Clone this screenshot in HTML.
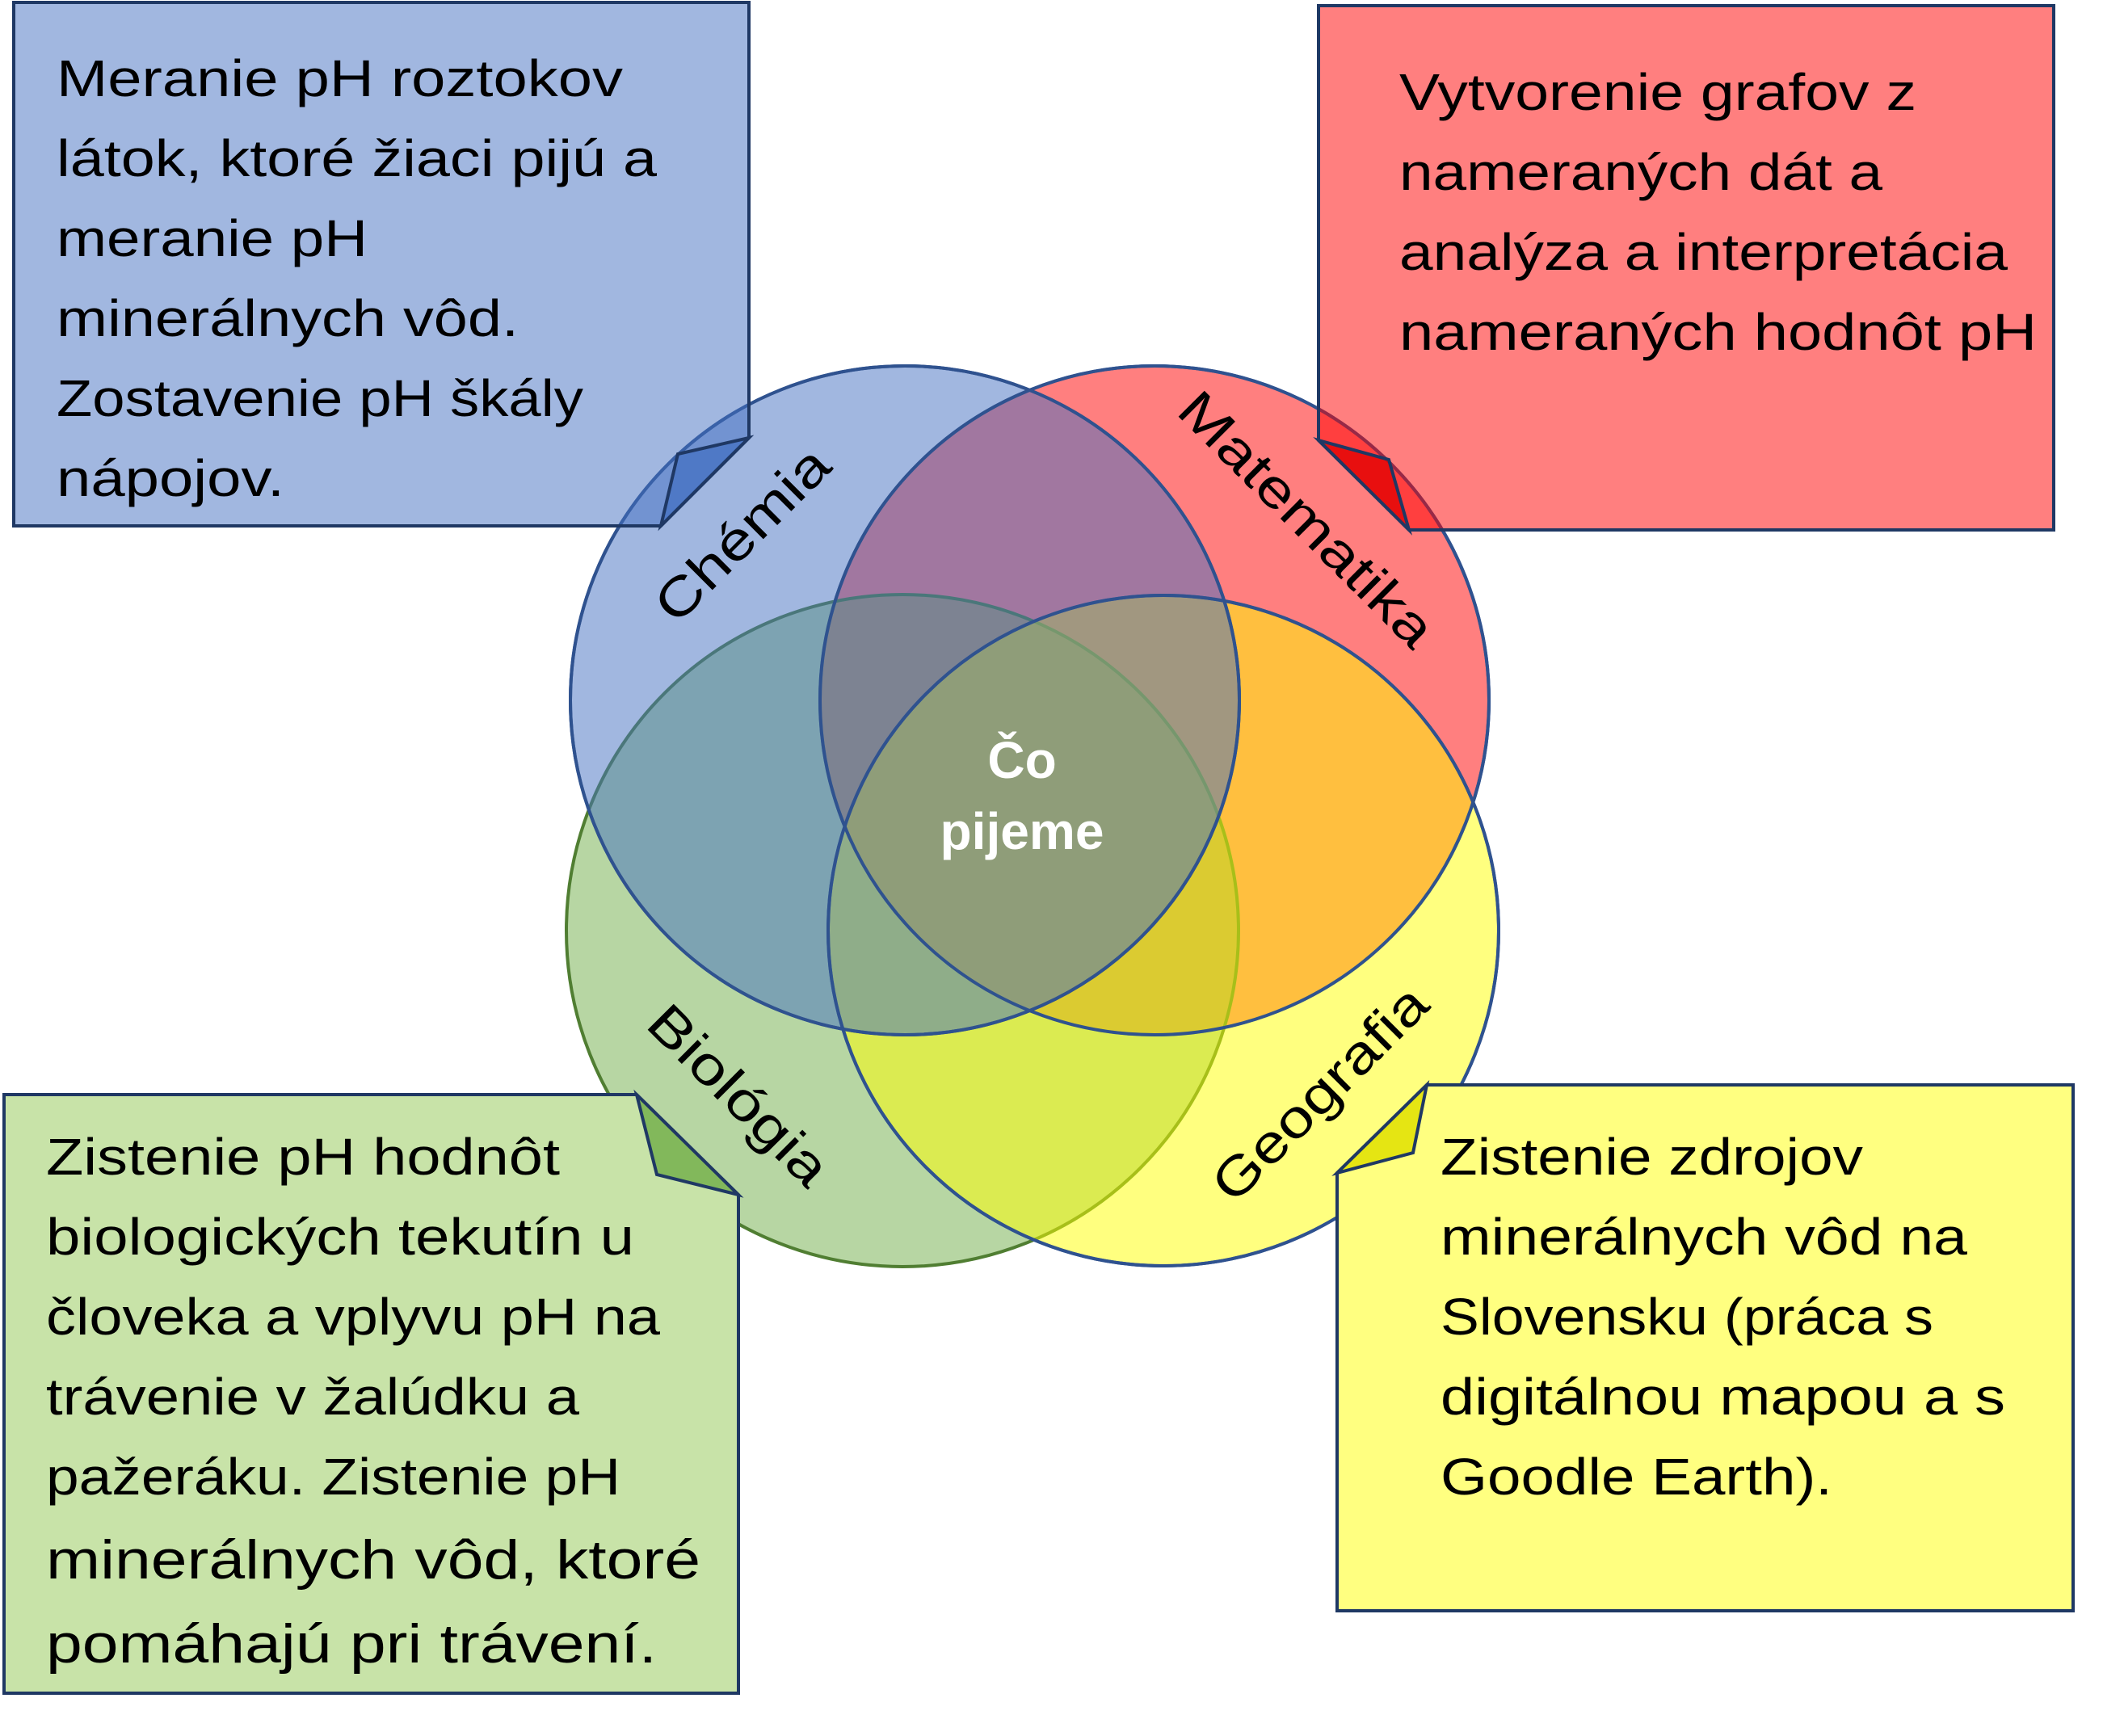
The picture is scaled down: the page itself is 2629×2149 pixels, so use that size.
<!DOCTYPE html>
<html><head><meta charset="utf-8"><style>
html,body{margin:0;padding:0;background:#fff;}
svg{display:block;}
text{font-family:"Liberation Sans",sans-serif;}
</style></head><body>
<svg width="2629" height="2149" viewBox="0 0 2629 2149" xmlns="http://www.w3.org/2000/svg">
<g stroke-width="4">
<circle cx="1429" cy="867" r="414" fill="#FF0000" fill-opacity="0.5" stroke="#2F528F"/>
<circle cx="1117" cy="1152" r="416" fill="#70AD47" fill-opacity="0.5" stroke="#507E32"/>
<circle cx="1440" cy="1152" r="415" fill="#FFFF00" fill-opacity="0.5" stroke="#2F528F"/>
<circle cx="1120" cy="867" r="414" fill="#4370C2" fill-opacity="0.5" stroke="#2F528F"/>
</g>
<g stroke-width="4" fill="none" stroke="#2F528F">
<circle cx="1429" cy="867" r="414"/>
<circle cx="1440" cy="1152" r="415"/>
<circle cx="1120" cy="867" r="414"/>
</g>
<g font-size="66" fill="#000" text-anchor="middle">
<text transform="translate(919,662) rotate(-45)" dy="22" textLength="276" lengthAdjust="spacingAndGlyphs">Chémia</text>
<text transform="translate(1617,643) rotate(45)" dy="22" textLength="417" lengthAdjust="spacingAndGlyphs">Matematika</text>
<text transform="translate(914,1356) rotate(45)" dy="22" textLength="287" lengthAdjust="spacingAndGlyphs">Biológia</text>
<text transform="translate(1634,1354) rotate(-45)" dy="22" textLength="347" lengthAdjust="spacingAndGlyphs">Geografia</text>
</g>
<g font-size="64" font-weight="bold" fill="#fff" text-anchor="middle">
<text x="1265" y="963">Čo</text>
<text x="1265" y="1051" textLength="203" lengthAdjust="spacingAndGlyphs">pijeme</text>
</g>
<g stroke="#1F3864" stroke-width="4" stroke-linejoin="miter">
<path d="M17,3 H927 V542 L818,651 H17 Z" fill="#4370C2" fill-opacity="0.5"/>
<path d="M927,542 L839,562 L818,651 Z" fill="#4470C2" fill-opacity="0.75"/>
<path d="M1632,7 H2542 V656 H1744 L1632,545 Z" fill="#FF0000" fill-opacity="0.5"/>
<path d="M1632,545 L1719,569 L1744,656 Z" fill="#E00000" fill-opacity="0.75"/>
<path d="M5,1355 H788 L914,1479 V2096 H5 Z" fill="#C8E3A8"/>
<path d="M788,1355 L813,1454 L914,1479 Z" fill="#70AD47" fill-opacity="0.8"/>
<path d="M1766,1343 H2566 V1994 H1655 V1452 Z" fill="#FFFF80"/>
<path d="M1766,1343 L1749,1427 L1655,1452 Z" fill="#E0E000" fill-opacity="0.85"/>
</g>
<g font-size="64" fill="#000">
<text x="70" y="119" textLength="701" lengthAdjust="spacingAndGlyphs">Meranie pH roztokov</text>
<text x="70" y="218" textLength="743" lengthAdjust="spacingAndGlyphs">látok, ktoré žiaci pijú a</text>
<text x="70" y="317" textLength="385" lengthAdjust="spacingAndGlyphs">meranie pH</text>
<text x="70" y="416" textLength="572" lengthAdjust="spacingAndGlyphs">minerálnych vôd.</text>
<text x="70" y="515" textLength="652" lengthAdjust="spacingAndGlyphs">Zostavenie pH škály</text>
<text x="70" y="614" textLength="282" lengthAdjust="spacingAndGlyphs">nápojov.</text>

<text x="1732" y="136" textLength="640" lengthAdjust="spacingAndGlyphs">Vytvorenie grafov z</text>
<text x="1732" y="235" textLength="598" lengthAdjust="spacingAndGlyphs">nameraných dát a</text>
<text x="1732" y="334" textLength="753" lengthAdjust="spacingAndGlyphs">analýza a interpretácia</text>
<text x="1732" y="433" textLength="789" lengthAdjust="spacingAndGlyphs">nameraných hodnôt pH</text>

<text x="57" y="1454" textLength="636" lengthAdjust="spacingAndGlyphs">Zistenie pH hodnôt</text>
<text x="57" y="1553" textLength="728" lengthAdjust="spacingAndGlyphs">biologických tekutín u</text>
<text x="57" y="1652" textLength="760" lengthAdjust="spacingAndGlyphs">človeka a vplyvu pH na</text>
<text x="57" y="1751" textLength="660" lengthAdjust="spacingAndGlyphs">trávenie v žalúdku a</text>
<text x="57" y="1850" textLength="711" lengthAdjust="spacingAndGlyphs">pažeráku. Zistenie pH</text>
<text x="57" y="1954" font-size="68" textLength="810" lengthAdjust="spacingAndGlyphs">minerálnych vôd, ktoré</text>
<text x="57" y="2058" font-size="68" textLength="756" lengthAdjust="spacingAndGlyphs">pomáhajú pri trávení.</text>

<text x="1783" y="1454" textLength="523" lengthAdjust="spacingAndGlyphs">Zistenie zdrojov</text>
<text x="1783" y="1553" textLength="652" lengthAdjust="spacingAndGlyphs">minerálnych vôd na</text>
<text x="1783" y="1652" textLength="610" lengthAdjust="spacingAndGlyphs">Slovensku (práca s</text>
<text x="1783" y="1751" textLength="699" lengthAdjust="spacingAndGlyphs">digitálnou mapou a s</text>
<text x="1783" y="1850" textLength="485" lengthAdjust="spacingAndGlyphs">Goodle Earth).</text>
</g>
</svg>
</body></html>
